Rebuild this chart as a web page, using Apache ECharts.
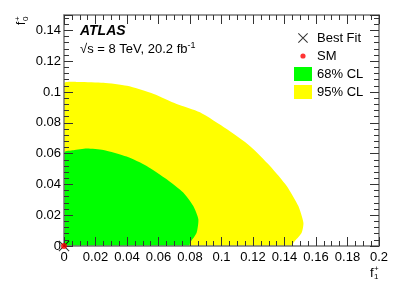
<!DOCTYPE html>
<html>
<head>
<meta charset="utf-8">
<script src="https://cdn.jsdelivr.net/npm/echarts@6/dist/echarts.min.js"></script>
<style>html,body{margin:0;padding:0;background:#fff}#c{width:399px;height:294px}</style>
</head>
<body>
<div id="c"></div>
<script>
// 95% CL contour boundary (f1+, f0+)
const cl95 = [[0,0],[0,0.1055],[0.008,0.1065],[0.025,0.106],[0.04,0.104],[0.057,0.0987],[0.0715,0.0922],[0.0863,0.0868],[0.1033,0.0759],[0.118,0.065],[0.1308,0.052],[0.1414,0.039],[0.1488,0.0259],[0.152,0.0151],[0.1509,0.0086],[0.1456,0.002],[0.145,0]];
// 68% CL contour boundary
const cl68 = [[0,0],[0,0.0607],[0.006,0.0622],[0.0144,0.0633],[0.025,0.0624],[0.0398,0.0581],[0.0525,0.052],[0.0652,0.0433],[0.0757,0.0347],[0.0821,0.0259],[0.0853,0.0173],[0.0842,0.0086],[0.08,0.002],[0.0795,0]];
const bestFit = [[0,0]];
const sm = [[0,0]];
const legendNames = ['Best Fit','SM','68% CL','95% CL'];

const FONT = 'Liberation Sans, Arial, sans-serif';
const AXL = '#777';
const TICK = '#333';
const X_PATH = 'path://M0,0.7L0.7,0L10,9.3L9.3,10ZM9.3,0L10,0.7L0.7,10L0,9.3Z';
const X_LEG = 'path://M0,0L0.01,0M18,14L18.01,14M4,2.7L4.7,2L14,11.3L13.3,12ZM13.3,2L14,2.7L4.7,12L4,11.3Z';
const DOT_LEG = 'path://M0,0L0.01,0M18,14L18.01,14M11.6,7A2.6,2.6,0,1,1,6.4,7A2.6,2.6,0,1,1,11.6,7Z';

function polySeries(name, data, color) {
  return {
    type: 'custom', name: name, data: data, clip: true, z: 2,
    itemStyle: {color: color},
    encode: {x: 0, y: 1},
    renderItem: function (params, api) {
      if (params.dataIndex !== 0) return null;
      const pts = data.map(p => api.coord(p));
      return {type: 'polygon', shape: {points: pts, smooth: 0.2}, style: {fill: color}};
    }
  };
}

function axis(extra, split, label) {
  return Object.assign({
    type: 'value', min: 0, interval: 0.02, z: 10,
    axisLine: {show: true, onZero: false, lineStyle: {color: AXL, width: 1.5}},
    axisTick: {show: true, inside: true, length: 9, lineStyle: {color: TICK, width: 1}},
    minorTick: {show: true, splitNumber: split, length: 5, lineStyle: {color: TICK, width: 1}},
    splitLine: {show: false},
    axisLabel: label
  }, extra);
}

const chart = echarts.init(document.getElementById('c'));
chart.setOption({
  animation: false,
  backgroundColor: '#fff',
  grid: {left: 64, right: 20, top: 15, bottom: 48},
  xAxis: [
    axis({max: 0.2, position: 'bottom'}, 4, {color: '#000', fontSize: 13, fontFamily: FONT, margin: 5}),
    axis({max: 0.2, position: 'top'}, 4, {show: false})
  ],
  yAxis: [
    axis({max: 0.15, position: 'left'}, 5, {color: '#000', fontSize: 13, fontFamily: FONT, margin: 3, showMaxLabel: false}),
    axis({max: 0.15, position: 'right'}, 5, {show: false})
  ],
  legend: {
    orient: 'vertical', left: 289, top: 26, itemWidth: 18, itemHeight: 14, itemGap: 4,
    symbolKeepAspect: true,
    textStyle: {color: '#000', fontSize: 13, fontFamily: FONT},
    data: [
      {name: legendNames[0], icon: X_LEG},
      {name: legendNames[1], icon: DOT_LEG},
      {name: legendNames[2], icon: 'rect'},
      {name: legendNames[3], icon: 'rect'}
    ]
  },
  graphic: [
    {type: 'text', left: 80, top: 24, style: {text: 'ATLAS', fill: '#000', font: 'italic bold 14px ' + FONT}},
    {type: 'text', left: 80, top: 41, style: {
      text: '√s = 8 TeV, 20.2 fb{sup|-1}', fill: '#000', font: '13px ' + FONT,
      rich: {sup: {fontSize: 9, fontFamily: FONT, fill: '#000', padding: [0, 0, 7, 0]}}
    }},
    {type: 'group', x: 22, y: 25, rotation: Math.PI / 2, children: [
      {type: 'text', x: 0, y: 0, style: {text: 'f', fill: '#000', font: '12px ' + FONT, textAlign: 'left', textVerticalAlign: 'middle'}},
      {type: 'text', x: 4, y: -4, style: {text: '+', fill: '#000', font: '8px ' + FONT, textAlign: 'left', textVerticalAlign: 'middle'}},
      {type: 'text', x: 4, y: 4, style: {text: '0', fill: '#000', font: '8px ' + FONT, textAlign: 'left', textVerticalAlign: 'middle'}}
    ]},
    {type: 'group', x: 370, y: 273, children: [
      {type: 'text', x: 0, y: 0, style: {text: 'f', fill: '#000', font: '13px ' + FONT, textAlign: 'left', textVerticalAlign: 'middle'}},
      {type: 'text', x: 4, y: -4, style: {text: '+', fill: '#000', font: '8px ' + FONT, textAlign: 'left', textVerticalAlign: 'middle'}},
      {type: 'text', x: 4, y: 4, style: {text: '1', fill: '#000', font: '8px ' + FONT, textAlign: 'left', textVerticalAlign: 'middle'}}
    ]}
  ],
  series: [
    polySeries(legendNames[3], cl95, '#ffff00'),
    polySeries(legendNames[2], cl68, '#00ff00'),
    {type: 'scatter', name: legendNames[0], data: bestFit, symbol: X_PATH, symbolSize: 11, clip: false, z: 20,
      itemStyle: {color: '#000'}},
    {type: 'scatter', name: legendNames[1], data: sm, symbol: 'circle', symbolSize: 6, clip: false, z: 21,
      itemStyle: {color: '#ff0000'}}
  ]
});
</script>
</body>
</html>
